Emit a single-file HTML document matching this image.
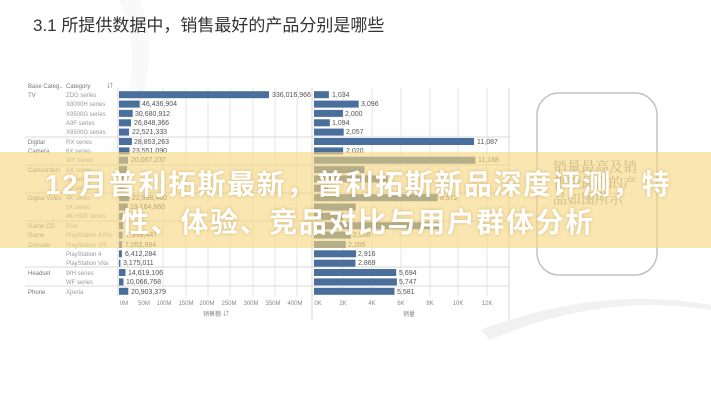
<!DOCTYPE html>
<html><head><meta charset="utf-8"><style>
html,body{margin:0;padding:0;background:#fff;}
body{width:711px;height:400px;overflow:hidden;position:relative;font-family:"Liberation Sans","Noto Sans CJK SC",sans-serif;}
svg{position:absolute;left:0;top:0;}
.ov{position:absolute;left:0;top:152px;width:711px;height:96px;background:rgba(247,214,128,0.62);}
.t{position:absolute;left:0;width:716px;text-align:center;color:#fff;font-weight:bold;font-size:28px;letter-spacing:1.6px;font-family:"Liberation Sans","Noto Sans CJK SC",sans-serif;text-shadow:0 0 3px rgba(180,140,60,0.5);white-space:nowrap;}
</style></head><body>
<svg width="711" height="400" viewBox="0 0 711 400" font-family="Liberation Sans, Noto Sans CJK SC, sans-serif">
<path d="M118 0 Q150 60 110 150 L122 150 Q165 60 140 0Z" fill="#f9f9f9"/>
<path d="M480 330 Q600 285 711 305 L711 310 Q600 292 490 340Z" fill="#f1f1f1"/>
<text x="33" y="31" font-size="17" fill="#333" font-family="Liberation Sans, Noto Sans CJK SC, sans-serif">3.1 所提供数据中，销售最好的产品分别是哪些</text>
<g stroke="#e6e6e6" stroke-width="1">
<line x1="141" y1="88" x2="141" y2="296"/><line x1="163" y1="88" x2="163" y2="296"/><line x1="186" y1="88" x2="186" y2="296"/><line x1="208" y1="88" x2="208" y2="296"/><line x1="230" y1="88" x2="230" y2="296"/><line x1="253" y1="88" x2="253" y2="296"/><line x1="275" y1="88" x2="275" y2="296"/><line x1="297" y1="88" x2="297" y2="296"/>
<line x1="343" y1="88" x2="343" y2="296"/><line x1="372" y1="88" x2="372" y2="296"/><line x1="401" y1="88" x2="401" y2="296"/><line x1="430" y1="88" x2="430" y2="296"/><line x1="458" y1="88" x2="458" y2="296"/><line x1="487" y1="88" x2="487" y2="296"/>
</g>
<g stroke="#d8d8d8" stroke-width="1">
<line x1="25" y1="137" x2="509" y2="137"/><line x1="25" y1="165" x2="509" y2="165"/><line x1="25" y1="193" x2="509" y2="193"/><line x1="25" y1="221" x2="509" y2="221"/><line x1="25" y1="267" x2="509" y2="267"/><line x1="25" y1="286" x2="509" y2="286"/>
<line x1="118" y1="88" x2="118" y2="296"/><line x1="312" y1="88" x2="312" y2="320"/><line x1="509" y1="88" x2="509" y2="320"/>
</g>
<g font-size="6" fill="#777">
<text x="28" y="88">Base Categ..</text><text x="66" y="88">Category</text><text x="107" y="88">⇵</text>
<text x="28" y="97">TV</text><text x="28" y="144">Digital</text><text x="28" y="153">Camera</text><text x="28" y="172">Camcorders</text><text x="28" y="200">Digital Video</text><text x="28" y="228">Game CD</text><text x="28" y="237">Game</text><text x="28" y="247">Console</text><text x="28" y="275">Headset</text><text x="28" y="294">Phone</text>
</g>
<g font-size="6" fill="#999">
<text x="66" y="97">ZDG series</text><text x="66" y="106">X8000H series</text><text x="66" y="116">X9500G series</text><text x="66" y="125">A9F series</text><text x="66" y="134">X8500G series</text><text x="66" y="144">RX series</text><text x="66" y="153">6X series</text><text x="66" y="162">WX series</text><text x="66" y="172">AX series</text><text x="66" y="181">CX series</text><text x="66" y="190">PJ series</text><text x="66" y="200">4K series</text><text x="66" y="209">1K series</text><text x="66" y="218">4K HDR series</text><text x="66" y="228">PS4</text><text x="66" y="237">PlayStation 4 Pro</text><text x="66" y="247">PlayStation VR</text><text x="66" y="256">PlayStation 4</text><text x="66" y="265">PlayStation Vita</text><text x="66" y="275">WH series</text><text x="66" y="284">WF series</text><text x="66" y="294">Xperia</text>
</g>
<g fill="#4a6f9c">
<rect x="119" y="91.2" width="150" height="7"/><rect x="119" y="100.6" width="20.7" height="7"/><rect x="119" y="109.9" width="13.7" height="7"/><rect x="119" y="119.3" width="12" height="7"/><rect x="119" y="128.6" width="10" height="7"/><rect x="119" y="138" width="12.9" height="7"/><rect x="119" y="147.4" width="10.5" height="7"/><rect x="119" y="156.7" width="9" height="7"/><rect x="119" y="166.1" width="8" height="7"/><rect x="119" y="175.4" width="7.6" height="7"/><rect x="119" y="184.8" width="5.8" height="7"/><rect x="119" y="194.2" width="10.3" height="7"/><rect x="119" y="203.5" width="8.6" height="7"/><rect x="119" y="212.9" width="4.5" height="7"/><rect x="119" y="222.2" width="4" height="7"/><rect x="119" y="231.6" width="3.6" height="7"/><rect x="119" y="241" width="3.1" height="7"/><rect x="119" y="250.3" width="2.9" height="7"/><rect x="119" y="259.7" width="1.4" height="7"/><rect x="119" y="269" width="6.5" height="7"/><rect x="119" y="278.4" width="4.5" height="7"/><rect x="119" y="287.8" width="9.3" height="7"/>
<rect x="314" y="91.2" width="14.9" height="7"/><rect x="314" y="100.6" width="44.7" height="7"/><rect x="314" y="109.9" width="28.9" height="7"/><rect x="314" y="119.3" width="15.8" height="7"/><rect x="314" y="128.6" width="29.7" height="7"/><rect x="314" y="138" width="160" height="7"/><rect x="314" y="147.4" width="29.1" height="7"/><rect x="314" y="156.7" width="161.4" height="7"/><rect x="314" y="166.1" width="50.5" height="7"/><rect x="314" y="175.4" width="73.6" height="7"/><rect x="314" y="184.8" width="14.4" height="7"/><rect x="314" y="194.2" width="123.7" height="7"/><rect x="314" y="203.5" width="41.8" height="7"/><rect x="314" y="212.9" width="28.9" height="7"/><rect x="314" y="222.2" width="128.4" height="7"/><rect x="314" y="231.6" width="36.9" height="7"/><rect x="314" y="241" width="31.8" height="7"/><rect x="314" y="250.3" width="42.1" height="7"/><rect x="314" y="259.7" width="41.4" height="7"/><rect x="314" y="269" width="82.2" height="7"/><rect x="314" y="278.4" width="82.9" height="7"/><rect x="314" y="287.8" width="80.5" height="7"/>
</g>
<g font-size="7" fill="#555">
<text x="272" y="97">336,016,966</text><text x="142" y="106">46,436,904</text><text x="135" y="116">30,680,912</text><text x="134" y="125">26,848,366</text><text x="132" y="134">22,521,333</text><text x="134" y="144">28,853,263</text><text x="132" y="153">23,551,090</text><text x="131" y="162">20,067,237</text><text x="132" y="200">22,998,460</text><text x="130" y="209">19,164,660</text><text x="126" y="237">7,999,447</text><text x="125" y="247">7,052,984</text><text x="125" y="256">6,412,284</text><text x="123" y="265">3,175,011</text><text x="128" y="275">14,619,106</text><text x="126" y="284">10,066,768</text><text x="131" y="294">20,903,379</text>
<text x="332" y="97">1,034</text><text x="361" y="106">3,096</text><text x="345" y="116">2,000</text><text x="332" y="125">1,094</text><text x="346" y="134">2,057</text><text x="477" y="144">11,087</text><text x="346" y="153">2,020</text><text x="478" y="162">11,188</text><text x="440" y="200">8,572</text><text x="353" y="237">2,558</text><text x="348" y="247">2,205</text><text x="358" y="256">2,916</text><text x="358" y="265">2,869</text><text x="399" y="275">5,694</text><text x="399" y="284">5,747</text><text x="397" y="294">5,581</text>
</g>
<g font-size="6" fill="#888" text-anchor="middle">
<text x="124" y="305">0M</text><text x="144" y="305">50M</text><text x="164" y="305">100M</text><text x="186" y="305">150M</text><text x="207" y="305">200M</text><text x="229" y="305">250M</text><text x="251" y="305">300M</text><text x="273" y="305">350M</text><text x="295" y="305">400M</text>
<text x="318" y="305">0K</text><text x="343" y="305">2K</text><text x="372" y="305">4K</text><text x="401" y="305">6K</text><text x="430" y="305">8K</text><text x="458" y="305">10K</text><text x="487" y="305">12K</text>
<text x="216" y="316">销售额 ⇵</text><text x="409" y="316">销量</text>
</g>
<rect x="537" y="93" width="120" height="182" rx="22" fill="none" stroke="#c2c2c2" stroke-width="1.5"/>
<g font-size="14" fill="#888" font-family="Liberation Serif, Noto Serif CJK SC, serif">
<text x="553" y="172">销量最高及销</text><text x="553" y="188">售额最高的产</text><text x="553" y="204">品如图所示</text>
</g>
</svg>
<div class="ov"></div>
<div class="t" style="top:163px;">12月普利拓斯最新，普利拓斯新品深度评测，特</div>
<div class="t" style="top:201px;">性、体验、竞品对比与用户群体分析</div>
</body></html>
